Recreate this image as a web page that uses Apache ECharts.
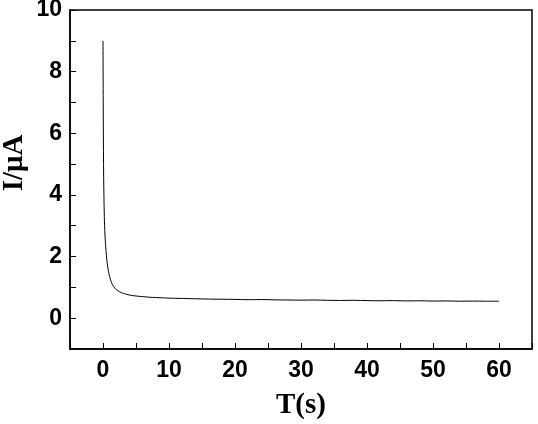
<!DOCTYPE html>
<html>
<head>
<meta charset="utf-8">
<script src="https://cdn.jsdelivr.net/npm/echarts@6/dist/echarts.min.js"></script>
<style>
  html, body { margin: 0; padding: 0; background: #fff; }
  #chart { width: 538px; height: 424px; }
</style>
</head>
<body>
<div id="chart"></div>
<script>
// time (s) and current (uA)
const times = [0, 0.05, 0.1, 0.2, 0.3, 0.45, 0.6, 0.8, 1.0, 1.3, 1.6, 2.0, 2.5, 3.0, 3.5, 4.0, 5.0, 6.0, 7.0, 8.0, 9.0, 10, 12, 14, 16, 18, 20, 22, 24, 26, 28, 30, 32, 34, 36, 38, 40, 42, 44, 46, 48, 50, 52, 54, 56, 58, 60];
const current = [9.0, 6.2, 4.6, 3.3, 2.7, 2.2, 1.85, 1.55, 1.35, 1.15, 1.03, 0.93, 0.86, 0.81, 0.78, 0.75, 0.72, 0.70, 0.68, 0.67, 0.66, 0.65, 0.64, 0.63, 0.62, 0.615, 0.61, 0.60, 0.605, 0.595, 0.59, 0.585, 0.59, 0.58, 0.575, 0.58, 0.57, 0.565, 0.57, 0.56, 0.565, 0.555, 0.56, 0.55, 0.555, 0.55, 0.55];
const xTicks = [0, 10, 20, 30, 40, 50, 60];
const yTicks = [0, 2, 4, 6, 8, 10];
const xName = 'T(s)';
const yName = 'I/μA';

const chart = echarts.init(document.getElementById('chart'));

const tickFont = {
  color: '#000',
  fontFamily: 'Liberation Sans, Arial, sans-serif',
  fontWeight: 'bold',
  fontSize: 23
};
const nameFont = {
  color: '#000',
  fontFamily: 'Liberation Serif, Times New Roman, serif',
  fontWeight: 'bold',
  fontSize: 29
};

chart.setOption({
  animation: false,
  grid: {
    left: 70, right: 6, top: 10, bottom: 75,
    outerBoundsMode: 'none',
    show: true, borderColor: '#000', borderWidth: 1.5
  },
  // y title placed by hand, the axis name would not move off the labels
  graphic: [{
    type: 'text',
    x: 15, y: 163,
    rotation: Math.PI / 2,
    style: {
      text: yName,
      fill: '#000',
      font: 'bold 29px "Liberation Serif", "Times New Roman", serif',
      align: 'center',
      verticalAlign: 'middle'
    }
  }],
  xAxis: {
    type: 'value',
    min: -5, max: 65, interval: 5,
    name: xName,
    nameLocation: 'middle',
    nameGap: 42,
    nameTextStyle: nameFont,
    axisLine: { show: true, onZero: false, lineStyle: { color: '#000', width: 1.5 } },
    axisTick: { inside: true, length: 6, lineStyle: { color: '#000' } },
    axisLabel: {
      ...tickFont,
      margin: 10,
      formatter: v => xTicks.includes(v) ? String(v) : ''
    },
    splitLine: { show: false }
  },
  yAxis: {
    type: 'value',
    min: -1, max: 10, interval: 1,
    axisLine: { show: true, onZero: false, lineStyle: { color: '#000', width: 1.5 } },
    axisTick: { inside: true, length: 6, lineStyle: { color: '#000' } },
    axisLabel: {
      ...tickFont,
      margin: 8,
      showMinLabel: false,
      formatter: v => yTicks.includes(v) ? String(v) : ''
    },
    splitLine: { show: false }
  },
  series: [{
    type: 'line',
    data: times.map((t, i) => [t, current[i]]),
    showSymbol: false,
    smooth: 0.3,
    lineStyle: { color: '#000', width: 1 }
  }]
});
</script>
</body>
</html>
